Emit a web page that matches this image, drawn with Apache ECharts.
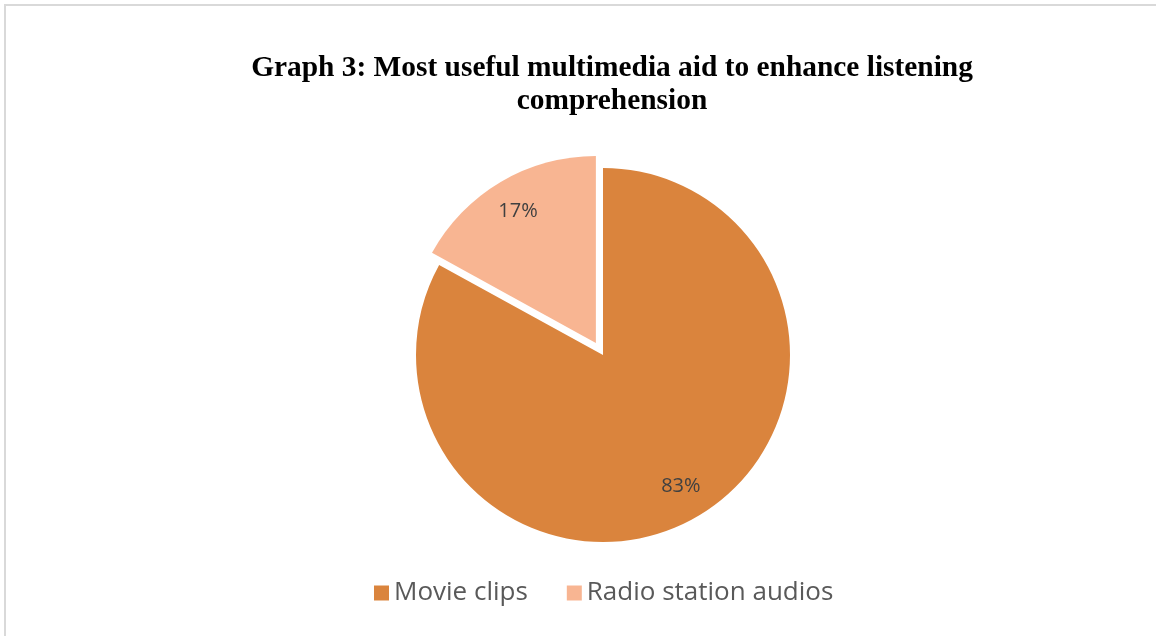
<!DOCTYPE html>
<html>
<head>
<meta charset="utf-8">
<script src="https://cdn.jsdelivr.net/npm/echarts@6/dist/echarts.min.js"></script>
<style>
  html, body { margin: 0; padding: 0; background: #fff; }
  #main { width: 1156px; height: 636px; position: relative; }
  .frame { position: absolute; left: 4px; top: 4px; right: 0; bottom: 0;
           border-top: 2px solid #d9d9d9; border-left: 2px solid #d9d9d9; pointer-events: none; }
</style>
</head>
<body>
<div id="main"></div>
<div class="frame"></div>
<script>
// data
const categories = ['Movie clips', 'Radio station audios'];
const shares = [83, 17];
const colors = ['#DA843D', '#F8B592'];

const titleText = 'Graph 3: Most useful multimedia aid to enhance listening\ncomprehension';

const pieData = categories.map((name, i) => ({
  name: name,
  value: shares[i],
  selected: i === 1,
  itemStyle: { color: colors[i] }
}));

const chart = echarts.init(document.getElementById('main'));

let option = {
  animation: false,
  title: {
    text: titleText,
    left: 607,
    top: 47,
    textAlign: 'center',
    textStyle: {
      fontFamily: '"Liberation Serif", "Times New Roman", serif',
      fontWeight: 'bold',
      fontSize: 29.4,
      lineHeight: 33,
      color: '#000'
    }
  },
  legend: {
    data: categories,
    left: 369,
    top: 575,
    icon: 'rect',
    itemWidth: 15,
    itemHeight: 15,
    itemGap: 39,
    selectedMode: false,
    textStyle: {
      fontFamily: '"Open Sans", "Liberation Sans", sans-serif',
      fontSize: 26,
      color: '#595959'
    }
  },
  series: [
    {
      // visible pie
      type: 'pie',
      center: [603, 355],
      radius: [0, 187],
      startAngle: 90,
      clockwise: true,
      selectedMode: 'single',
      selectedOffset: 14,
      silent: true,
      label: { show: false },
      labelLine: { show: false },
      itemStyle: { borderColor: '#fff', borderWidth: 0 },
      data: pieData
    },
    {
      // transparent helper, only for placing the % labels near the rim
      type: 'pie',
      center: [603, 355],
      radius: [0, 300],
      startAngle: 90,
      clockwise: true,
      selectedMode: 'single',
      selectedOffset: 14,
      silent: true,
      z: 3,
      itemStyle: { color: 'rgba(0,0,0,0)' },
      label: {
        show: true,
        position: 'inside',
        formatter: '{c}%',
        fontFamily: '"Open Sans", "Liberation Sans", sans-serif',
        fontSize: 20,
        color: '#404040'
      },
      labelLine: { show: false },
      data: categories.map((name, i) => ({
        name: name,
        value: shares[i],
        selected: i === 1,
        itemStyle: { color: 'rgba(0,0,0,0)' }
      }))
    }
  ]
};

chart.setOption(option);
</script>
</body>
</html>
